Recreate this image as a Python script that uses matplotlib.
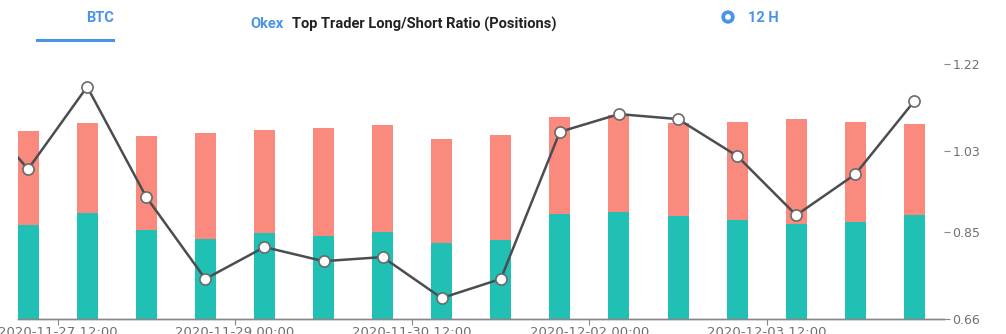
import numpy as np
import matplotlib.pyplot as plt
from matplotlib.patches import Circle

# Дані
x_labels = ['2020-11-27 12:00', '2020-11-29 00:00', '2020-11-30 12:00',
            '2020-12-02 00:00', '2020-12-03 12:00']
x_label_pos = [0.5, 3.5, 6.5, 9.5, 12.5]

# long / short (bars, hidden scale 0..100)
long_vals = [36.9, 41.6, 34.9, 31.4, 33.7, 32.5, 34.1, 29.8,
             31.0, 41.2, 42.0, 40.4, 38.8, 37.3, 38.0, 40.8]
short_vals = [36.9, 35.3, 36.9, 41.6, 40.4, 42.4, 42.0, 40.8,
              41.2, 38.0, 38.0, 36.5, 38.4, 41.2, 39.2, 35.7]

# ratio line (first value is the clipped previous point)
ratio_vals = [1.14, 0.989, 1.170, 0.928, 0.748, 0.818, 0.787, 0.796, 0.706,
              0.748, 1.071, 1.110, 1.099, 1.018, 0.888, 0.978, 1.139]
y_ticks = [0.66, 0.85, 1.03, 1.22]

teal = '#20c0b5'
salmon = '#fa8a7d'
blue = '#4a94e8'
grey_txt = '#707070'
narrow = ['Liberation Sans Narrow', 'Roboto', 'DejaVu Sans']

W, H = 1006, 334
fig = plt.figure(figsize=(W / 100, H / 100), dpi=100)

# plot area in pixels: x 18..944, y 64..319
left, right, top, bottom = 18, 944, 64, 319
ax = fig.add_axes([left / W, 1 - bottom / H, (right - left) / W, (bottom - top) / H])
ax2 = ax.twinx()

idx = np.arange(len(long_vals))
xlim = (-0.17, 15.5)

# бари на прихованій осі
ax.bar(idx, long_vals, width=0.355, color=teal, zorder=1)
ax.bar(idx, short_vals, width=0.355, bottom=long_vals, color=salmon, zorder=1)
ax.set_ylim(0, 100)
ax.set_xlim(*xlim)
ax.set_yticks([])

# лінія співвідношення
ax2.plot(np.arange(-1, len(ratio_vals) - 1), ratio_vals, color='#4a4d52', lw=1.8,
         marker='o', markersize=8, markerfacecolor='white',
         markeredgecolor='#6a6a6a', markeredgewidth=1.2, zorder=5, clip_on=True)
ax2.set_ylim(0.66, 1.22)
ax2.set_xlim(*xlim)
ax2.set_yticks(y_ticks)
ax2.set_yticklabels([f'{v:.2f}' for v in y_ticks])
ax2.tick_params(axis='y', length=4, width=0.8, colors='#888888', labelcolor=grey_txt,
                labelsize=9, pad=2)

ax.set_xticks(x_label_pos)
ax.set_xticklabels(x_labels)
ax.tick_params(axis='x', length=4, width=0.8, colors='#888888', labelcolor=grey_txt,
               labelsize=9.5, pad=1)

for a in (ax, ax2):
    for s in ('top', 'left', 'right'):
        a.spines[s].set_visible(False)
    a.spines['bottom'].set_color('#888888')
    a.spines['bottom'].set_linewidth(1.0)

# заголовок
fig.text(100 / W, 1 - 18 / H, 'BTC', color=blue, fontsize=10.5, fontweight='bold',
         family=narrow, ha='center', va='center')
fig.add_artist(plt.Line2D([37 / W, 113 / W], [1 - 40 / H, 1 - 40 / H],
                          color=blue, lw=2.2))
fig.text(250 / W, 1 - 24 / H, 'Okex', color=blue, fontsize=10.5, fontweight='bold',
         family=narrow, ha='left', va='center')
fig.text(292 / W, 1 - 24 / H, 'Top Trader Long/Short Ratio (Positions)', color='#222222',
         fontsize=10.5, fontweight='bold', family=narrow, ha='left', va='center')
fig.text(748 / W, 1 - 18 / H, '12 H', color=blue, fontsize=10.5, fontweight='bold',
         family=narrow, ha='left', va='center')
ax_icon = fig.add_axes([0, 0, 1, 1], zorder=-1)
ax_icon.set_xlim(0, W)
ax_icon.set_ylim(H, 0)
ax_icon.axis('off')
ax_icon.add_patch(Circle((728, 17), 6, color=blue))
ax_icon.add_patch(Circle((728, 17), 2.2, color='white'))

fig.savefig('out.png', dpi=100)
